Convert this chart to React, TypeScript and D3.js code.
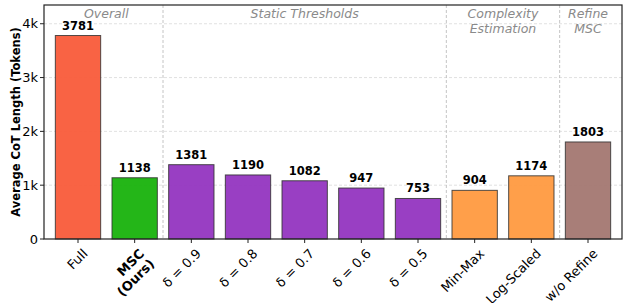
import React, { useEffect, useRef } from 'react'
import * as d3 from 'd3'

// data
const CATEGORIES = ['Full', 'MSC\n(Ours)', 'δ = 0.9', 'δ = 0.8', 'δ = 0.7', 'δ = 0.6', 'δ = 0.5', 'Min-Max', 'Log-Scaled', 'w/o Refine']
const VALUES = [3781, 1138, 1381, 1190, 1082, 947, 753, 904, 1174, 1803]
const COLORS = ['#F95B3A', '#18B20C', '#9435C0', '#9435C0', '#9435C0', '#9435C0', '#9435C0', '#FF9A40', '#FF9A40', '#A37771']
const Y_TICKS = [0, 1000, 2000, 3000, 4000]
const Y_TICK_LABELS = ['0', '1k', '2k', '3k', '4k']
const GROUPS = [
  { label: ['Overall'], center: 0.5 },
  { label: ['Static Thresholds'], center: 4 },
  { label: ['Complexity', 'Estimation'], center: 7.5 },
  { label: ['Refine', 'MSC'], center: 9 },
]
const SEPARATORS = [1.5, 6.5, 8.5]

const W = 624
const H = 303
const FONT = 'DejaVu Sans, sans-serif'

export default function App() {
  const ref = useRef<SVGSVGElement>(null)

  useEffect(() => {
    const svg = d3.select(ref.current)
    svg.selectAll('*').remove()

    const left = 44, right = 622, top = 5, bottom = 239

    const x = d3.scaleLinear().domain([-0.6, CATEGORIES.length - 0.4]).range([left, right])
    const y = d3.scaleLinear().domain([0, d3.max(VALUES)! * 1.15]).range([bottom, top])
    const bw = (x(1) - x(0)) * 0.8

    // grid
    svg.append('g').selectAll('line').data(Y_TICKS.slice(1)).join('line')
      .attr('x1', left).attr('x2', right)
      .attr('y1', d => y(d)).attr('y2', d => y(d))
      .attr('stroke', '#d9d9d9').attr('stroke-width', 0.8).attr('stroke-dasharray', '3,2')

    // separators
    svg.append('g').selectAll('line').data(SEPARATORS).join('line')
      .attr('x1', d => x(d)).attr('x2', d => x(d))
      .attr('y1', top).attr('y2', bottom)
      .attr('stroke', '#bdbdbd').attr('stroke-width', 0.9).attr('stroke-dasharray', '3,2')

    // bars
    svg.append('g').selectAll('rect').data(VALUES).join('rect')
      .attr('x', (_, i) => x(i) - bw / 2)
      .attr('width', bw)
      .attr('y', d => y(d))
      .attr('height', d => bottom - y(d))
      .attr('fill', (_, i) => COLORS[i])
      .attr('fill-opacity', 0.95)
      .attr('stroke', '#333')
      .attr('stroke-opacity', 0.85)
      .attr('stroke-width', 1)

    // value labels
    svg.append('g').selectAll('text').data(VALUES).join('text')
      .attr('x', (_, i) => x(i))
      .attr('y', d => y(d) - 6)
      .attr('text-anchor', 'middle')
      .attr('font-family', FONT)
      .attr('font-size', 11.5)
      .attr('font-weight', 'bold')
      .text(d => d)

    // group labels
    GROUPS.forEach(g => {
      const t = svg.append('text')
        .attr('text-anchor', 'middle')
        .attr('font-family', FONT)
        .attr('font-size', 12.5)
        .attr('font-style', 'italic')
        .attr('fill', '#8a8a8a')
      g.label.forEach((line, j) => {
        t.append('tspan').attr('x', x(g.center)).attr('y', 18 + j * 14.5).text(line)
      })
    })

    // frame
    svg.append('rect')
      .attr('x', left).attr('y', top).attr('width', right - left).attr('height', bottom - top)
      .attr('fill', 'none').attr('stroke', '#222').attr('stroke-width', 1.2)

    // y axis
    const ya = svg.append('g')
    Y_TICKS.forEach((t, i) => {
      ya.append('line').attr('x1', left - 4).attr('x2', left).attr('y1', y(t)).attr('y2', y(t))
        .attr('stroke', '#222').attr('stroke-width', 1)
      ya.append('text').attr('x', left - 6).attr('y', y(t)).attr('dy', '0.35em')
        .attr('text-anchor', 'end').attr('font-family', FONT).attr('font-size', 13)
        .text(Y_TICK_LABELS[i])
    })
    svg.append('text')
      .attr('transform', `translate(16,${(top + bottom) / 2}) rotate(-90)`)
      .attr('text-anchor', 'middle')
      .attr('dy', '0.35em')
      .attr('font-family', FONT).attr('font-size', 11.5).attr('font-weight', 'bold')
      .text('Average CoT Length (Tokens)')

    // x axis
    const xa = svg.append('g')
    CATEGORIES.forEach((c, i) => {
      const cx = x(i)
      xa.append('line').attr('x1', cx).attr('x2', cx).attr('y1', bottom).attr('y2', bottom + 4)
        .attr('stroke', '#222').attr('stroke-width', 1)
      const lines = c.split('\n')
      const bold = i === 1
      const t = xa.append('text')
        .attr('transform', `translate(${cx + 4},${bottom + 9}) rotate(-45)`)
        .attr('text-anchor', 'end')
        .attr('font-family', FONT).attr('font-size', 13)
        .attr('font-weight', bold ? 'bold' : 'normal')
      lines.forEach((l, j) => {
        t.append('tspan').attr('x', 0).attr('y', 0)
          .attr('dy', `${0.7 + j * 1.1}em`)
          .text(l)
      })
    })
  }, [])

  return (
    <svg ref={ref} width={W} height={H} style={{ position: 'absolute', left: 0, top: 0, background: '#fff' }} />
  )
}
